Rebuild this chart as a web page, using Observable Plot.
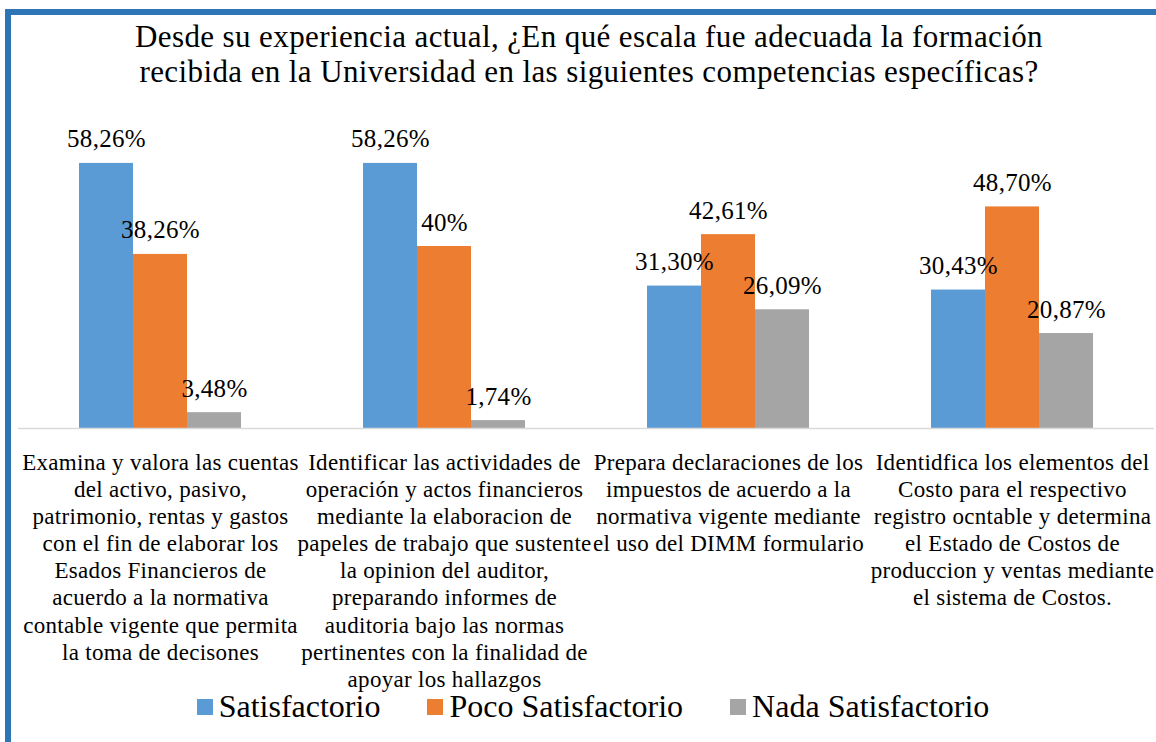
<!DOCTYPE html>
<html>
<head>
<meta charset="utf-8">
<script src="https://cdn.jsdelivr.net/npm/d3@7"></script>
<script src="https://cdn.jsdelivr.net/npm/@observablehq/plot@0.6"></script>
<style>
  html, body { margin: 0; padding: 0; background: #fff; }
  body { width: 1156px; height: 742px; overflow: hidden; position: relative; }
  #frame { position: absolute; left: 5px; top: 9px; width: 1200px; height: 800px; border-left: 6px solid #2E75B6; border-top: 6px solid #2E75B6; box-sizing: border-box; }
  #chart { position: absolute; left: 0; top: 0; }
  #chart svg text { letter-spacing: 0.3px; }
  #title { position: absolute; left: 0; width: 1178px; top: 19px; text-align: center; font-size: 31px; line-height: 35px; letter-spacing: 0.4px; color: #000; }
  #legend { position: absolute; top: 688px; left: 0; width: 1186px; display: flex; justify-content: center; gap: 47px; font-size: 32px; color: #000; }
  #legend .item { display: flex; align-items: center; gap: 6px; }
  #legend .sw { width: 16px; height: 16px; display: inline-block; }
</style>
</head>
<body style="font-family:'Liberation Serif'">
<div id="frame"></div>
<div id="chart" style="font-family:'Liberation Serif'"></div>
<div id="title" style="font-family:'Liberation Serif'">Desde su experiencia actual, ¿En qué escala fue adecuada la formación<br>recibida en la Universidad en las siguientes competencias específicas?</div>
<div id="legend" style="font-family:'Liberation Serif'"></div>
<script>
const categories = [
  "Examina y valora las cuentas\ndel activo, pasivo,\npatrimonio, rentas y gastos\ncon el fin de elaborar los\nEsados Financieros de\nacuerdo a la normativa\ncontable vigente que permita\nla toma de decisones",
  "Identificar las actividades de\noperación y actos financieros\nmediante la elaboracion de\npapeles de trabajo que sustente\nla opinion del auditor,\npreparando informes de\nauditoria bajo las normas\npertinentes con la finalidad de\napoyar los hallazgos",
  "Prepara declaraciones de los\nimpuestos de acuerdo a la\nnormativa vigente mediante\nel uso del DIMM formulario",
  "Identidfica los elementos del\nCosto para el respectivo\nregistro ocntable y determina\nel Estado de Costos de\nproduccion y ventas mediante\nel sistema de Costos."
];
const series = ["Satisfactorio", "Poco Satisfactorio", "Nada Satisfactorio"];
const satisfactorio = [58.26, 58.26, 31.30, 30.43];
const pocoSatisfactorio = [38.26, 40, 42.61, 48.70];
const nadaSatisfactorio = [3.48, 1.74, 26.09, 20.87];
const satisfactorioLabels = ["58,26%", "58,26%", "31,30%", "30,43%"];
const pocoLabels = ["38,26%", "40%", "42,61%", "48,70%"];
const nadaLabels = ["3,48%", "1,74%", "26,09%", "20,87%"];
const colors = ["#5B9BD5", "#ED7D31", "#A5A5A5"];

const FONT = "Liberation Serif";
const seriesValues = [satisfactorio, pocoSatisfactorio, nadaSatisfactorio];
const seriesLabels = [satisfactorioLabels, pocoLabels, nadaLabels];
const data = [];
categories.forEach((c, i) => {
  series.forEach((s, j) => {
    data.push({cat: c, serie: s, value: seriesValues[j][i], label: seriesLabels[j][i]});
  });
});
const catData = categories.map(c => ({cat: c}));

const plot = Plot.plot({
  width: 1156,
  height: 692,
  marginTop: 155,
  marginBottom: 264,
  marginLeft: 18,
  marginRight: 2,
  style: {background: "transparent", overflow: "visible", fontFamily: FONT},
  fx: {domain: categories, padding: 0, axis: null},
  x: {domain: series, paddingInner: 0, paddingOuter: 1.113, axis: null},
  y: {domain: [0, 60], axis: null},
  color: {domain: series, range: colors},
  marks: [
    Plot.barY(data, {fx: "cat", x: "serie", y: "value", fill: "serie", inset: 0}),
    Plot.ruleY([0], {stroke: "#D9D9D9", strokeWidth: 1.5}),
    Plot.text(data, {fx: "cat", x: "serie", y: "value", text: "label", lineAnchor: "bottom", dy: -16, fontSize: 25, fontFamily: FONT, fill: "#000"}),
    Plot.text(catData, {fx: "cat", text: "cat", frameAnchor: "bottom", lineAnchor: "top", dy: 22, fontSize: 23, fontFamily: FONT, lineHeight: 1.18, fill: "#000"})
  ]
});
document.getElementById("chart").appendChild(plot);

const legend = document.getElementById("legend");
series.forEach((s, j) => {
  const item = document.createElement("div");
  item.className = "item";
  const sw = document.createElement("span");
  sw.className = "sw";
  sw.style.background = colors[j];
  const t = document.createElement("span");
  t.textContent = s;
  t.style.fontFamily = FONT;
  item.appendChild(sw);
  item.appendChild(t);
  legend.appendChild(item);
});
</script>
</body>
</html>
